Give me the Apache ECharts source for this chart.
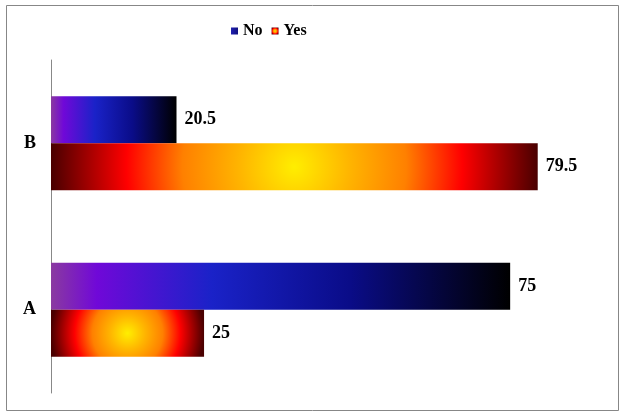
<!DOCTYPE html>
<html>
<head>
<meta charset="utf-8">
<script src="https://cdn.jsdelivr.net/npm/echarts@6/dist/echarts.min.js"></script>
<style>
  html, body { margin: 0; padding: 0; background: #fff; }
  #chart { width: 624px; height: 418px; }
</style>
</head>
<body>
<div id="chart"></div>
<script>
const categories = ['A', 'B']
const noValues = [75, 20.5]
const yesValues = [25, 79.5]
const seriesNames = ['No', 'Yes']

const chart = echarts.init(document.getElementById('chart'))

const fontFamily = '"Liberation Serif", "Times New Roman", serif'
const labelFont = 'bold 18px ' + fontFamily

const noStops = [
  { offset: 0, color: '#8a3aa0' },
  { offset: 0.1, color: '#7008d8' },
  { offset: 0.35, color: '#1a22c8' },
  { offset: 0.65, color: '#0a0c88' },
  { offset: 1, color: '#000000' }
]
const yesStops = [
  { offset: 0, color: '#ffee00' },
  { offset: 0.23, color: '#ffb400' },
  { offset: 0.46, color: '#ff8000' },
  { offset: 0.69, color: '#ff0000' },
  { offset: 1, color: '#4a0000' }
]

const renderBar = (api, side) => {
  const cat = api.value(0)
  const val = api.value(1)
  const start = api.coord([0, cat])
  const end = api.coord([val, cat])
  const band = api.size([0, 1])[1]
  const h = band * 0.282
  const y0 = side < 0 ? start[1] - h : start[1]
  const cy = y0 + h / 2
  const w = end[0] - start[0]
  let fill
  if (side < 0) {
    fill = new echarts.graphic.LinearGradient(0, 0, 1, 0, noStops)
  } else {
    // round glow whose radius is half the bar length
    const r = (w / 2) / Math.min(w, h)
    fill = new echarts.graphic.RadialGradient(0.5, 0.5, r, yesStops)
  }
  return {
    type: 'group',
    children: [
      {
        type: 'rect',
        shape: { x: start[0], y: y0, width: w, height: h },
        style: { fill: fill }
      },
      {
        type: 'text',
        style: {
          text: String(val),
          x: end[0] + 8,
          y: cy,
          verticalAlign: 'middle',
          font: labelFont,
          fill: '#000'
        }
      }
    ]
  }
}

const option = {
  animation: false,
  backgroundColor: '#fff',
  graphic: [
    {
      type: 'rect',
      shape: { x: 6.5, y: 5.5, width: 612, height: 405 },
      style: { fill: 'none', stroke: '#878787', lineWidth: 1 }
    }
  ],
  legend: {
    left: 226,
    top: 18,
    icon: 'rect',
    itemWidth: 7,
    itemHeight: 7,
    itemGap: 9,
    textStyle: { fontFamily: fontFamily, fontWeight: 'bold', fontSize: 16, color: '#000' },
    data: [
      { name: seriesNames[0], itemStyle: { color: new echarts.graphic.LinearGradient(0, 0, 1, 0, [{ offset: 0, color: '#2020b0' }, { offset: 1, color: '#101080' }]) } },
      { name: seriesNames[1], itemStyle: { color: new echarts.graphic.RadialGradient(0.5, 0.5, 0.6, yesStops) } }
    ]
  },
  grid: {
    left: 51,
    right: 22,
    top: 60,
    bottom: 25
  },
  xAxis: {
    type: 'value',
    min: 0,
    max: 90,
    show: false
  },
  yAxis: {
    type: 'category',
    data: categories,
    axisLine: { show: true, lineStyle: { color: '#888' } },
    axisTick: { show: false },
    axisLabel: {
      margin: 15,
      fontFamily: fontFamily,
      fontWeight: 'bold',
      fontSize: 18,
      color: '#000'
    },
    splitLine: { show: false }
  },
  series: [
    {
      name: seriesNames[0],
      type: 'custom',
      encode: { x: 1, y: 0 },
      data: categories.map((c, i) => [i, noValues[i]]),
      renderItem: (params, api) => renderBar(api, -1)
    },
    {
      name: seriesNames[1],
      type: 'custom',
      encode: { x: 1, y: 0 },
      data: categories.map((c, i) => [i, yesValues[i]]),
      renderItem: (params, api) => renderBar(api, 1)
    }
  ]
}

chart.setOption(option)
</script>
</body>
</html>
